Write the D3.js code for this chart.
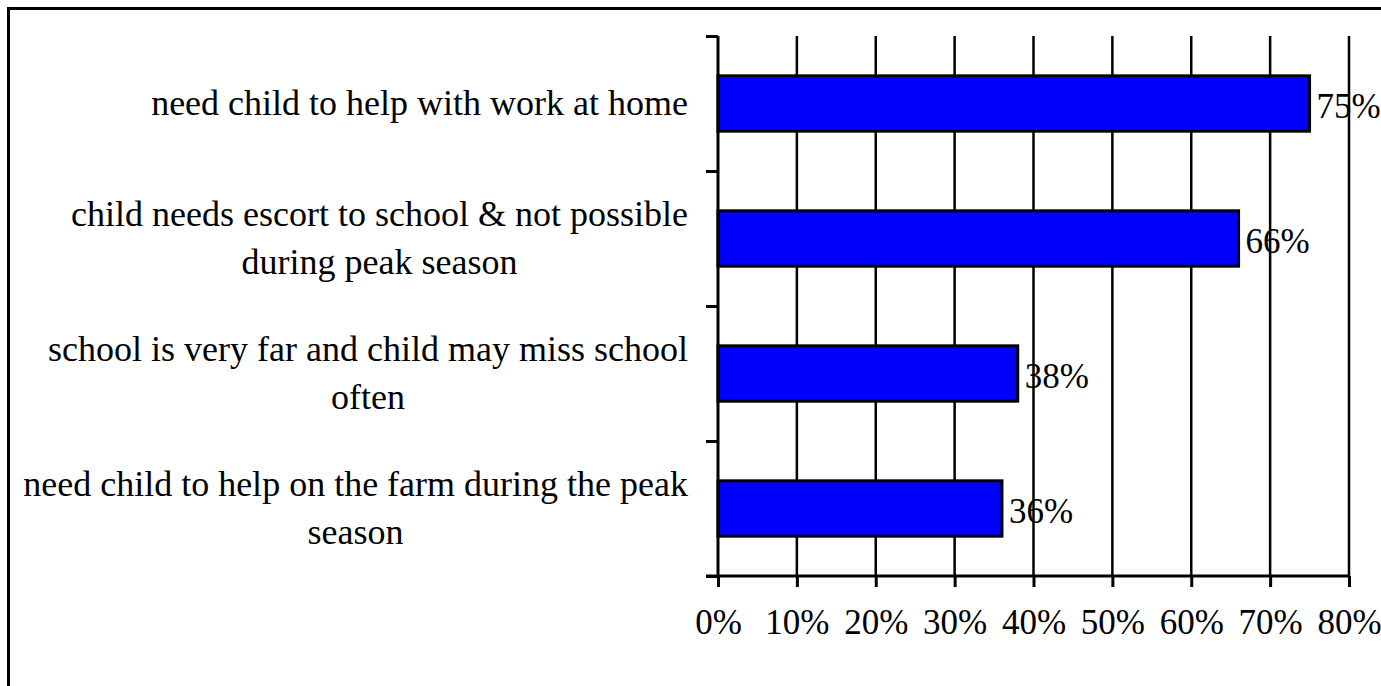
<!DOCTYPE html>
<html>
<head>
<meta charset="utf-8">
<script src="https://cdn.jsdelivr.net/npm/d3@7/dist/d3.min.js"></script>
<style>
  html, body { margin: 0; padding: 0; background: #fff; }
  svg { display: block; }
  text { font-family: "Liberation Serif", "Times New Roman", serif; fill: #000; }
</style>
</head>
<body>
<svg id="chart" width="1381" height="686"></svg>
<script>
// Reasons given for keeping children out of school (share of respondents)
const categories = [
  ["need child to help with work at home"],
  ["child needs escort to school & not possible", "during peak season"],
  ["school is very far and child may miss school", "often"],
  ["need child to help on the farm during the peak", "season"]
];
const values = [0.75, 0.66, 0.38, 0.36];
const valueLabels = ["75%", "66%", "38%", "36%"];
const xTicks = [0, 0.1, 0.2, 0.3, 0.4, 0.5, 0.6, 0.7, 0.8];
const xTickLabels = ["0%", "10%", "20%", "30%", "40%", "50%", "60%", "70%", "80%"];

const W = 1381, H = 686;
const plot = { left: 718, right: 1349, top: 36, bottom: 576 };

const svg = d3.select("#chart");
svg.append("rect").attr("width", W).attr("height", H).attr("fill", "#fff");

// outer frame
svg.append("rect")
  .attr("x", 8.5).attr("y", 8.5)
  .attr("width", W + 20).attr("height", H + 20)
  .attr("fill", "none").attr("stroke", "#000").attr("stroke-width", 3);

const keys = categories.map((c, i) => i);

const x = d3.scaleLinear().domain([0, 0.8]).range([plot.left, plot.right]);
const y = d3.scaleBand().domain(keys).range([plot.top, plot.bottom])
  .paddingInner(0.59).paddingOuter(0.295);
const yEdges = d3.scaleLinear().domain([0, keys.length]).range([plot.top, plot.bottom]);

// vertical gridlines
svg.append("g")
  .selectAll("line")
  .data(xTicks.slice(1))
  .join("line")
  .attr("x1", d => x(d)).attr("x2", d => x(d))
  .attr("y1", plot.top).attr("y2", plot.bottom)
  .attr("stroke", "#000").attr("stroke-width", 2.5);

// bars
svg.append("g")
  .selectAll("rect")
  .data(values)
  .join("rect")
  .attr("x", x(0))
  .attr("y", (d, i) => y(i))
  .attr("width", d => x(d) - x(0))
  .attr("height", y.bandwidth())
  .attr("fill", "#0000ff")
  .attr("stroke", "#000")
  .attr("stroke-width", 3);

// value labels
svg.append("g")
  .selectAll("text")
  .data(values)
  .join("text")
  .attr("x", d => x(d) + 7)
  .attr("y", (d, i) => y(i) + y.bandwidth() / 2 + 14)
  .attr("font-size", 35)
  .text((d, i) => valueLabels[i]);

// category axis (ticks at band edges)
const yAxis = svg.append("g")
  .attr("transform", `translate(${plot.left},0)`)
  .call(d3.axisLeft(yEdges).tickValues(d3.range(keys.length + 1)).tickSize(12).tickFormat(""));
yAxis.select(".domain").attr("stroke", "#000").attr("stroke-width", 3)
  .attr("d", `M0,${plot.top}V${plot.bottom}`);
yAxis.selectAll(".tick line").attr("stroke", "#000").attr("stroke-width", 3);

// value axis
const xAxis = svg.append("g")
  .attr("transform", `translate(0,${plot.bottom})`)
  .call(d3.axisBottom(x).tickValues(xTicks).tickSize(11).tickPadding(22)
    .tickFormat((d, i) => xTickLabels[i]));
xAxis.select(".domain").attr("stroke", "#000").attr("stroke-width", 3)
  .attr("d", `M${plot.left - 12},0H${plot.right}`);
xAxis.selectAll(".tick line").attr("stroke", "#000").attr("stroke-width", 3);
xAxis.selectAll(".tick text")
  .attr("font-family", "Liberation Serif, Times New Roman, serif")
  .attr("font-size", 35).attr("fill", "#000");

// category labels: centred lines, block right edge at the axis gap
const labelRight = 688;
const lineGap = 48;
const labelG = svg.append("g");
categories.forEach((lines, i) => {
  const cy = y(i) + y.bandwidth() / 2;
  const t = labelG.append("text").attr("font-size", 36).attr("text-anchor", "middle");
  const spans = lines.map((s, j) =>
    t.append("tspan")
      .attr("y", cy + 11 + (j - (lines.length - 1) / 2) * lineGap)
      .text(s));
  const maxW = d3.max(spans, s => s.node().getComputedTextLength());
  spans.forEach(s => s.attr("x", labelRight - maxW / 2));
});
</script>
</body>
</html>
